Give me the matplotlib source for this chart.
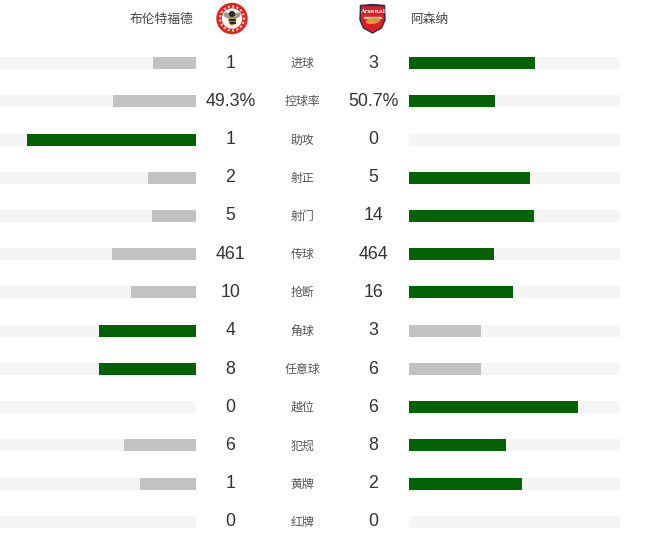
import matplotlib
matplotlib.use('Agg')
import matplotlib.pyplot as plt
from matplotlib.patches import Circle, Ellipse, Polygon, Rectangle

plt.rcParams['font.family'] = ['Noto Sans CJK SC', 'DejaVu Sans']

# Data
home_team = '布伦特福德'
away_team = '阿森纳'
stats = ['进球', '控球率', '助攻', '射正', '射门', '传球', '抢断', '角球', '任意球', '越位', '犯规', '黄牌', '红牌']
home_labels = ['1', '49.3%', '1', '2', '5', '461', '10', '4', '8', '0', '6', '1', '0']
away_labels = ['3', '50.7%', '0', '5', '14', '464', '16', '3', '6', '6', '8', '2', '0']
# bar lengths, as share of the full track width (211 px = 100)
home_share = [20.4, 39.3, 80.1, 22.7, 20.9, 39.8, 30.8, 46.0, 46.0, 0, 34.1, 26.5, 0]
away_share = [59.7, 40.8, 0, 57.3, 59.2, 40.3, 49.3, 34.1, 34.1, 80.1, 46.0, 53.6, 0]
home_leads = [False, False, True, False, False, False, False, True, True, False, False, False, False]
away_leads = [True, True, False, True, True, True, True, False, False, True, True, True, False]

W, H = 660, 544
GREEN = '#036304'
GREY = '#c2c2c2'
TRACK = '#f5f5f5'
rows_y = [63, 101.2, 139.5, 177.7, 216, 254.2, 292.4, 330.7, 369, 407.2, 445.4, 483.6, 522]

fig = plt.figure(figsize=(W / 100, H / 100), dpi=100)
bg = fig.add_axes([0, 0, 1, 1])
bg.set_xlim(0, W)
bg.set_ylim(H, 0)
bg.axis('off')


def bar_axes(x0, x1, xlim):
    ax = fig.add_axes([x0 / W, 0, (x1 - x0) / W, 1], zorder=2)
    ax.set_xlim(*xlim)
    ax.set_ylim(H, 0)
    ax.axis('off')
    return ax


# left track runs off the edge of the picture, so scale is set from 196 px wide
left = bar_axes(0, 196, (196 / 211 * 100, 0))
right = bar_axes(409, 620, (0, 100))

left.barh(rows_y, [100] * 13, height=12, color=TRACK)
right.barh(rows_y, [100] * 13, height=12, color=TRACK)
left.barh(rows_y, home_share, height=12, color=[GREEN if w else GREY for w in home_leads])
right.barh(rows_y, away_share, height=12, color=[GREEN if w else GREY for w in away_leads])

for y, s, a, b in zip(rows_y, stats, home_labels, away_labels):
    bg.text(230.5, y, a, ha='center', va='center', fontsize=12.8, color='#333333', family='Liberation Sans')
    bg.text(373.5, y, b, ha='center', va='center', fontsize=12.8, color='#333333', family='Liberation Sans')
    bg.text(302.5, y + 0.5, s, ha='center', va='center', fontsize=8.6, color='#555555')

bg.text(193, 19, home_team, ha='right', va='center', fontsize=9.2, color='#444444', fontweight='medium')
bg.text(411, 19, away_team, ha='left', va='center', fontsize=9.2, color='#444444', fontweight='medium')

# Brentford badge
bg.add_patch(Circle((232, 18.5), 15, color='#e2231a'))
bg.add_patch(Circle((232, 18.5), 12, fill=False, ec='#f6c9c6', lw=1.6, ls=(0, (1, 1))))
bg.add_patch(Circle((232, 18.5), 9.5, color='white'))
bg.add_patch(Ellipse((227.5, 15.5), 7, 4, angle=25, color='#9a9a9a'))
bg.add_patch(Ellipse((236.5, 15.5), 7, 4, angle=-25, color='#9a9a9a'))
bg.add_patch(Ellipse((232, 20), 6, 10, color='#c9a227'))
bg.add_patch(Circle((232, 14), 2.4, color='#2b2b2b'))
bg.add_patch(Rectangle((229.2, 19), 5.6, 1.4, color='#2b2b2b'))
bg.add_patch(Rectangle((229.5, 22), 5, 1.4, color='#2b2b2b'))

# Arsenal badge
bg.add_patch(Polygon([(360.5, 5.5), (372.5, 4.5), (384.5, 5.5), (385, 20), (381.5, 28), (372.5, 33), (363.5, 28), (360, 20)],
                     closed=True, color='#2a2f45'))
bg.add_patch(Polygon([(362, 7), (383, 7), (383.3, 20), (380.5, 27), (372.5, 31.5), (364.5, 27), (361.7, 20)],
                     closed=True, color='#e01e26'))
bg.text(372.5, 11.5, 'Arsenal', ha='center', va='center', fontsize=4.2, color='white', fontweight='bold', family='DejaVu Serif')
bg.add_patch(Rectangle((364, 16.5), 17, 1, color='#e8c9a0'))
bg.add_patch(Ellipse((373, 21), 13, 4.5, angle=-8, color='#d49a3a'))

fig.savefig('out.png', dpi=100)
